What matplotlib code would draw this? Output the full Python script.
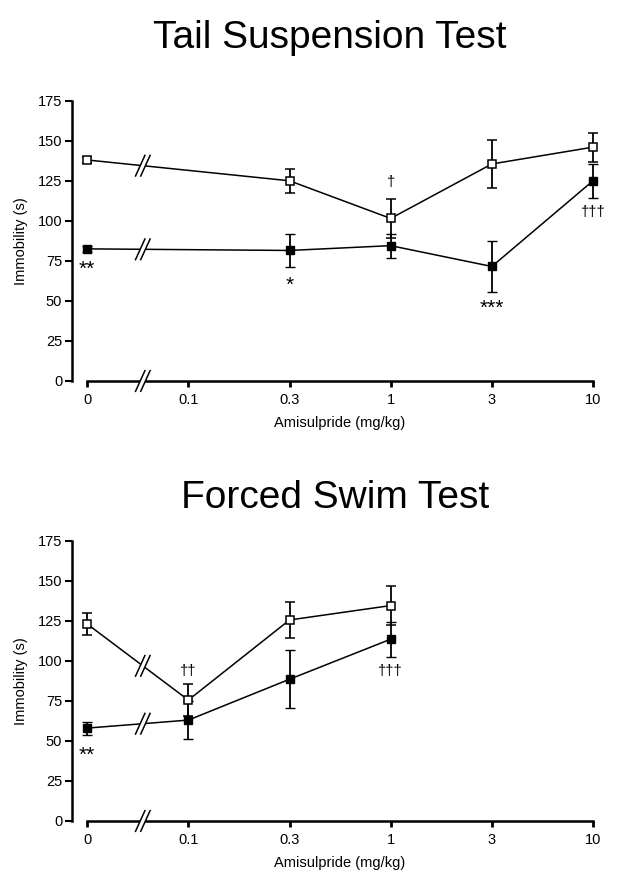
import numpy as np
import matplotlib
matplotlib.use("Agg")
import matplotlib.pyplot as plt

plt.rcParams['font.family'] = ['Liberation Sans', 'DejaVu Sans']

# ---------------- data ----------------
dose_labels = ['0', '0.1', '0.3', '1', '3', '10']

tst_doses = ['0', '0.3', '1', '3', '10']
tst_open = [138, 125, 101.5, 135.5, 146]
tst_open_err = [2, 7.5, 12, 15, 9]
tst_filled = [82.5, 81.5, 84.5, 71.5, 125]
tst_filled_err = [2, 10.5, 7.5, 16, 10.5]

fst_doses = ['0', '0.1', '0.3', '1']
fst_open = [123, 75.5, 125.5, 134.5]
fst_open_err = [7, 10, 11.5, 12]
fst_filled = [58, 63, 88.5, 113.5]
fst_filled_err = [4, 12, 18, 11]

# significance marks: (dose, series, text)
tst_sig = [('0', 'filled', '**'), ('0.3', 'filled', '*'), ('1', 'open', '†'),
           ('3', 'filled', '***'), ('10', 'filled', '†††')]
fst_sig = [('0', 'filled', '**'), ('0.1', 'open', '††'), ('1', 'filled', '†††')]

yticks = [0, 25, 50, 75, 100, 125, 150, 175]

W, H = 631, 881
fig = plt.figure(figsize=(W / 100, H / 100), dpi=100)

def axes_rect(left_px, top_px, right_px, bottom_px):
    return [left_px / W, 1 - bottom_px / H, (right_px - left_px) / W, (bottom_px - top_px) / H]

ax1 = fig.add_axes(axes_rect(72, 100.7, 593, 381))
ax2 = fig.add_axes(axes_rect(72, 540.7, 593, 821))

def draw_break(ax, xd, yd):
    # small '//' break symbol centred at data point (xd, yd)
    t = ax.transData
    cx, cy = t.transform((xd, yd))
    hw, hh, gap = 5.0, 11.0, 2.6
    inv = t.inverted()
    def P(dx, dy):
        return inv.transform((cx + dx, cy + dy))
    poly = np.array([P(-gap - hw, -hh), P(-gap + hw, hh), P(gap + hw, hh), P(gap - hw, -hh)])
    ax.fill(poly[:, 0], poly[:, 1], color='white', zorder=6, clip_on=False, lw=0)
    for s in (-gap, gap):
        a = P(s - hw, -hh)
        b = P(s + hw, hh)
        ax.plot([a[0], b[0]], [a[1], b[1]], color='black', lw=1.1, zorder=7, clip_on=False,
                solid_capstyle='butt')

def panel(ax, doses, o, oe, f, fe, sig, offsets):
    ax.set_xlim(-0.15, 5)
    ax.set_ylim(0, 175)
    x = np.array([dose_labels.index(d) for d in doses], dtype=float)
    ax.errorbar(x, f, yerr=fe, fmt='-s', color='black', mfc='black', mec='black',
                ms=5.8, mew=1.0, lw=1.1, elinewidth=1.3, capsize=3.4, capthick=1.3,
                zorder=3, clip_on=False)
    ax.errorbar(x, o, yerr=oe, fmt='-s', color='black', mfc='white', mec='black',
                ms=5.6, mew=1.1, lw=1.1, elinewidth=1.3, capsize=3.4, capthick=1.3,
                zorder=4, clip_on=False)
    for sp in ('top', 'right'):
        ax.spines[sp].set_visible(False)
    ax.spines['left'].set_bounds(0, 175)
    ax.spines['bottom'].set_bounds(0, 5)
    ax.spines['left'].set_linewidth(1.8)
    ax.spines['bottom'].set_linewidth(1.8)
    ax.set_yticks(yticks)
    ax.set_xticks(range(len(dose_labels)))
    ax.set_xticklabels(dose_labels)
    ax.tick_params(axis='y', length=5, width=1.5, labelsize=10.5, pad=2)
    ax.tick_params(axis='x', length=4, width=2.0, labelsize=10.5, pad=5)
    ax.set_ylabel('Immobility (s)', fontsize=10.5, labelpad=7)
    ax.set_xlabel('Amisulpride (mg/kg)', fontsize=10.5)
    ax.xaxis.set_label_coords((2.5 + 0.15) / 5.15, -0.125)
    # break marks
    xb = 0.55
    draw_break(ax, xb, 0)
    for vals in (o, f):
        yb = np.interp(xb, x[:2], vals[:2])
        draw_break(ax, xb, yb)
    # significance marks
    for (d, s, txt), off in zip(sig, offsets):
        i = doses.index(d)
        v = (o if s == 'open' else f)[i]
        e = (oe if s == 'open' else fe)[i]
        base = v + e if off > 0 else v - e
        fs = 15 if '*' in txt else 10.5
        ax.text(x[i], base + off, txt, ha='center', va='center', fontsize=fs, zorder=8)

panel(ax1, tst_doses, tst_open, tst_open_err, tst_filled, tst_filled_err, tst_sig,
      [-11.0, -11.0, 11.0, -10.0, -9.0])
panel(ax2, fst_doses, fst_open, fst_open_err, fst_filled, fst_filled_err, fst_sig,
      [-13.0, 8.0, -9.0])

fig.text(330 / W, 1 - 47.7 / H, 'Tail Suspension Test', ha='center', va='baseline', fontsize=28)
fig.text(335.6 / W, 1 - 508 / H, 'Forced Swim Test', ha='center', va='baseline', fontsize=28)

fig.savefig('out.png', dpi=100)
